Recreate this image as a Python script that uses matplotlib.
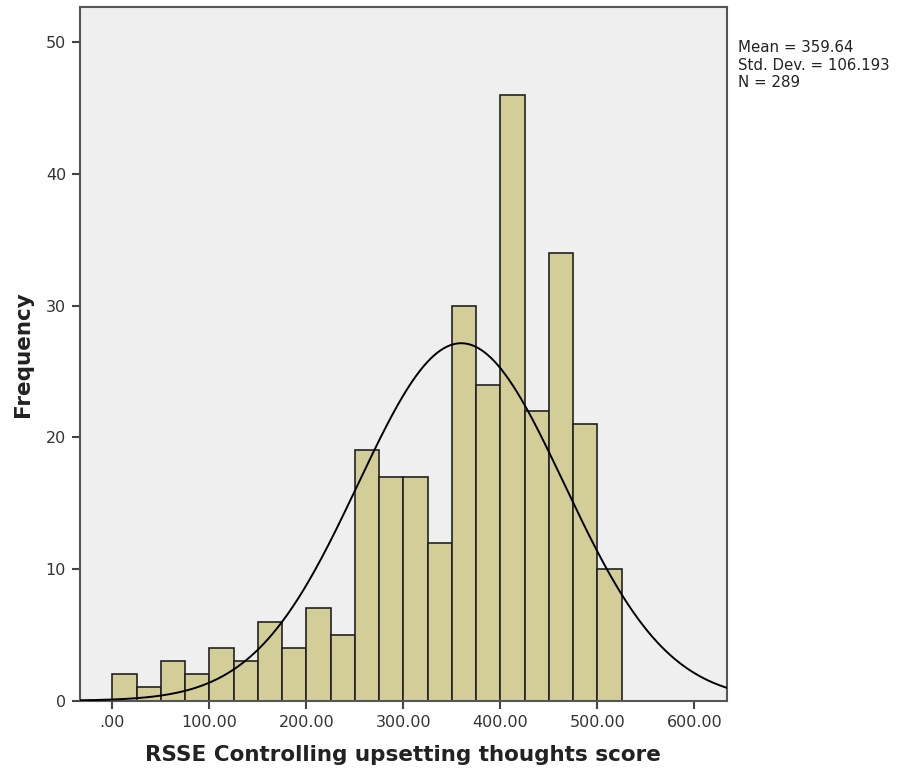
import numpy as np
import matplotlib
matplotlib.use("Agg")
import matplotlib.pyplot as plt

bin_edges = [0, 25, 50, 75, 100, 125, 150, 175, 200, 225, 250, 275, 300, 325, 350,
             375, 400, 425, 450, 475, 500, 525]
counts = [2, 1, 3, 2, 4, 3, 6, 4, 7, 5, 19, 17, 17, 12, 30, 24, 46, 22, 34, 21, 10]
mean = 359.64
std = 106.193
n = 289
xticks = [0, 100, 200, 300, 400, 500, 600]
xtick_labels = [".00", "100.00", "200.00", "300.00", "400.00", "500.00", "600.00"]
yticks = [0, 10, 20, 30, 40, 50]

plt.rcParams['font.family'] = ['DejaVu Sans']
fig = plt.figure(figsize=(9.09, 7.78), dpi=100)
ax = fig.add_axes([0.088, 0.0994, 0.7115, 0.8912])
ax.set_facecolor("#EFEFEF")

lefts = np.array(bin_edges[:-1])
widths = np.diff(bin_edges)
ax.bar(lefts, counts, width=widths, align="edge", color="#D3CE97",
       edgecolor="#222222", linewidth=1.2, zorder=2)

xs = np.linspace(-40, 640, 600)
binw = bin_edges[1] - bin_edges[0]
ys = n * binw * np.exp(-0.5 * ((xs - mean) / std) ** 2) / (std * np.sqrt(2 * np.pi))
ax.plot(xs, ys, color="black", linewidth=1.4, zorder=3)

ax.set_xlim(-33.3, 633.4)
ax.set_ylim(0, 52.65)
ax.set_xticks(xticks)
ax.set_xticklabels(xtick_labels)
ax.set_yticks(yticks)
ax.tick_params(axis="both", direction="out", length=6, width=1.5, color="#444444",
               labelsize=11.5, labelcolor="#333333", pad=4)
for s in ax.spines.values():
    s.set_color("#555555")
    s.set_linewidth(1.5)

ax.set_xlabel("RSSE Controlling upsetting thoughts score", fontsize=15.5,
              fontweight="bold", color="#222222", labelpad=11)
ax.set_ylabel("Frequency", fontsize=15.5, fontweight="bold", color="#222222", labelpad=9)

fig.text(0.812, 0.948, "Mean = 359.64\nStd. Dev. = 106.193\nN = 289",
         fontsize=10.8, color="#222222", va="top", ha="left", linespacing=1.2)

fig.savefig("out.png", dpi=100)
